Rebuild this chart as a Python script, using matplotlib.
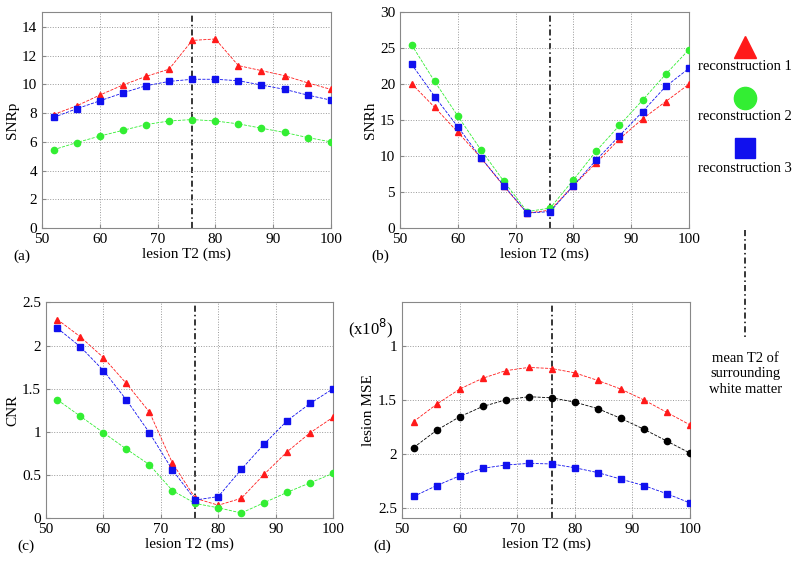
import numpy as np
import matplotlib
matplotlib.use('Agg')
import matplotlib.pyplot as plt

plt.rcParams['font.family'] = ['Liberation Serif', 'DejaVu Serif']
plt.rcParams['font.size'] = 10

# lesion T2 values (ms)
t2 = [52, 56, 60, 64, 68, 72, 76, 80, 84, 88, 92, 96, 100]
wm_t2 = 76  # mean T2 of surrounding white matter

# (a) SNRp
snrp_r1 = [7.9, 8.5, 9.25, 9.95, 10.55, 11.05, 13.05, 13.15, 11.3, 10.95, 10.6, 10.1, 9.65]
snrp_r2 = [5.45, 5.95, 6.4, 6.8, 7.2, 7.45, 7.55, 7.45, 7.25, 6.95, 6.65, 6.3, 6.0]
snrp_r3 = [7.7, 8.3, 8.85, 9.4, 9.9, 10.2, 10.35, 10.35, 10.25, 9.95, 9.65, 9.25, 8.9]

# (b) SNRh
snrh_r1 = [20.1, 16.8, 13.35, 9.8, 5.8, 2.1, 2.5, 5.9, 9.1, 12.4, 15.2, 17.6, 20.0]
snrh_r2 = [25.5, 20.4, 15.6, 10.9, 6.5, 2.3, 2.8, 6.7, 10.75, 14.3, 17.8, 21.4, 24.8]
snrh_r3 = [22.8, 18.3, 14.1, 9.8, 5.9, 2.1, 2.3, 5.9, 9.5, 12.85, 16.2, 19.7, 22.2]

# (c) CNR
cnr_r1 = [2.3, 2.1, 1.86, 1.56, 1.23, 0.64, 0.23, 0.15, 0.23, 0.51, 0.77, 0.99, 1.17]
cnr_r2 = [1.37, 1.18, 0.99, 0.80, 0.62, 0.32, 0.17, 0.12, 0.06, 0.18, 0.30, 0.41, 0.52]
cnr_r3 = [2.2, 1.985, 1.71, 1.37, 0.99, 0.56, 0.21, 0.25, 0.565, 0.86, 1.13, 1.33, 1.5]

# (d) lesion MSE (x1e8)
mse_r1 = [1.70, 1.54, 1.40, 1.30, 1.23, 1.20, 1.21, 1.25, 1.32, 1.40, 1.50, 1.615, 1.73]
mse_k = [1.94, 1.78, 1.655, 1.56, 1.50, 1.47, 1.48, 1.52, 1.58, 1.67, 1.77, 1.88, 1.99]
mse_r3 = [2.39, 2.29, 2.20, 2.13, 2.10, 2.085, 2.09, 2.125, 2.17, 2.23, 2.29, 2.365, 2.45]

RED = '#ff1a1a'
GREEN = '#33ee33'
BLUE = '#1010ee'

fig = plt.figure(figsize=(8, 5.62), dpi=100)

def setup(ax, ylabel, ylim, yticks, label):
    ax.set_xlim(50, 100)
    ax.set_xticks([50, 60, 70, 80, 90, 100])
    ax.set_ylim(*ylim)
    ax.set_yticks(yticks)
    ax.grid(True, linestyle=':', color='#999999', linewidth=0.7)
    for s in ax.spines.values():
        s.set_color('#888888')
    ax.tick_params(direction='in', length=3, color='#888888', labelsize=11)
    ax.set_ylabel(ylabel, fontsize=11, labelpad=2)
    ax.set_xlabel('lesion T2 (ms)', fontsize=11, labelpad=1)
    ax.text(-0.1, -0.13, label, transform=ax.transAxes, fontsize=11, va='center')
    ax.axvline(wm_t2, color='black', linestyle=(0, (4, 2, 1, 2)), linewidth=1.1, zorder=1)

def series(ax, y, color, marker):
    ax.plot(t2, y, color=color, linestyle='--', linewidth=0.6, marker=marker,
            markersize=4.5, markeredgecolor=color, zorder=3)

ax = fig.add_axes([0.0525, 0.594, 0.361, 0.384])
series(ax, snrp_r1, RED, '^')
series(ax, snrp_r3, BLUE, 's')
series(ax, snrp_r2, GREEN, 'o')
setup(ax, 'SNRp', (0, 15), [0, 2, 4, 6, 8, 10, 12, 14], '(a)')

ax = fig.add_axes([0.5, 0.594, 0.361, 0.384])
series(ax, snrh_r1, RED, '^')
series(ax, snrh_r2, GREEN, 'o')
series(ax, snrh_r3, BLUE, 's')
setup(ax, 'SNRh', (0, 30), [0, 5, 10, 15, 20, 25, 30], '(b)')

ax = fig.add_axes([0.0575, 0.078, 0.359, 0.384])
series(ax, cnr_r1, RED, '^')
series(ax, cnr_r2, GREEN, 'o')
series(ax, cnr_r3, BLUE, 's')
setup(ax, 'CNR', (0, 2.5), [0, 0.5, 1, 1.5, 2, 2.5], '(c)')
ax.set_yticklabels(['0', '0.5', '1', '1.5', '2', '2.5'])

ax = fig.add_axes([0.5025, 0.078, 0.36, 0.384])
series(ax, mse_r1, RED, '^')
series(ax, mse_k, 'black', 'o')
series(ax, mse_r3, BLUE, 's')
setup(ax, 'lesion MSE', (2.59, 0.6), [1, 1.5, 2, 2.5], '(d)')
ax.set_yticklabels(['1', '1.5', '2', '2.5'])
ax.text(-0.03, 0.88, r'(x10$^8$)', transform=ax.transAxes, fontsize=12,
        ha='right', va='center')

# legend panel on the right
lg = fig.add_axes([0.86, 0.0, 0.14, 1.0])
lg.set_xlim(0, 1)
lg.set_ylim(562, 0)
lg.axis('off')
cx = 0.51
lg.plot([cx], [47], marker='^', color=RED, markersize=16, linestyle='none')
lg.text(cx, 66, 'reconstruction 1', ha='center', va='center', fontsize=10.5)
lg.plot([cx], [98], marker='o', color=GREEN, markersize=16, linestyle='none')
lg.text(cx, 116, 'reconstruction 2', ha='center', va='center', fontsize=10.5)
lg.plot([cx], [148], marker='s', color=BLUE, markersize=15, linestyle='none')
lg.text(cx, 168, 'reconstruction 3', ha='center', va='center', fontsize=10.5)
lg.plot([cx, cx], [230, 338], color='black', linestyle=(0, (4, 2, 1, 2)), linewidth=1.1)
lg.text(cx, 374, 'mean T2 of\nsurrounding\nwhite matter', ha='center', va='center',
        fontsize=10.5, linespacing=1.25)

fig.savefig('out.png', dpi=100)
